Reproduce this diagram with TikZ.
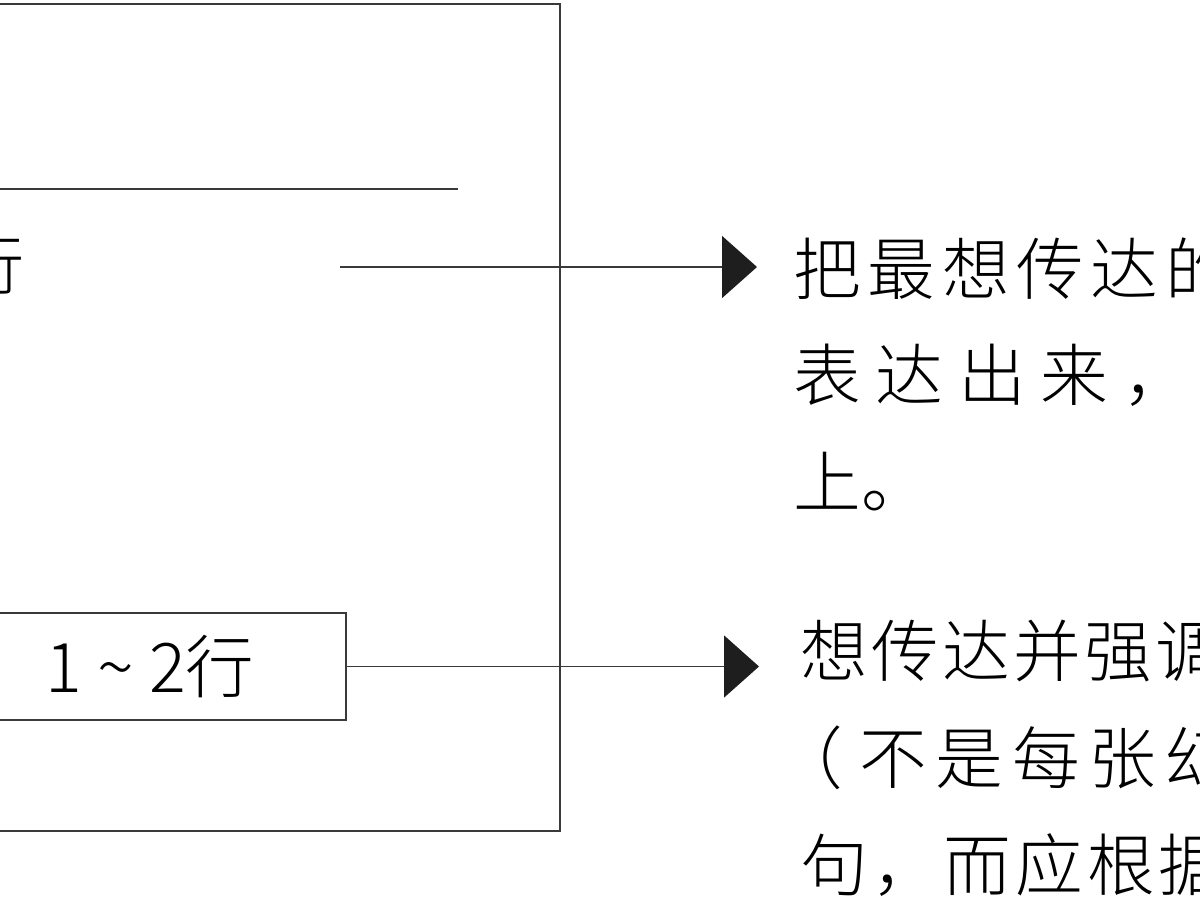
\documentclass[tikz,border=0pt]{standalone}
\usepackage{fontspec}
\IfFontExistsTF{Noto Sans CJK SC Light}
  {\newfontfamily\cjk{Noto Sans CJK SC Light}}
  {\newfontfamily\cjk{Noto Sans CJK SC}}
\usetikzlibrary{arrows.meta,positioning}
\definecolor{linegray}{HTML}{3A3A3A}
\definecolor{tipblack}{HTML}{1E1E1E}
\newcommand{\spaced}[2]{{\addfontfeature{LetterSpace=#1}#2}}

\begin{document}
\begin{tikzpicture}[
      frame/.style={draw=linegray,line width=0.9pt},
      tag/.style={draw=linegray,line width=0.9pt,minimum width=7.84cm,minimum height=2.14cm,inner sep=0pt,font=\cjk\fontsize{39}{42}\selectfont},
      note/.style={align=left,inner sep=0pt,anchor=north west,font=\cjk\fontsize{38.5}{60.7}\selectfont},
      arr/.style={-{Triangle[length=0.7cm,width=1.24cm,color=tipblack]},draw=linegray,line width=0.9pt}
    ]
    \useasboundingbox (0,0) rectangle (24,18);
    \clip (0,0) rectangle (24,18);
    \node[frame,minimum width=12cm,minimum height=16.54cm,anchor=north east] (slide) at (11.22,17.94) {};
    \draw[frame] (-0.6,14.22) -- (9.16,14.22);
    \node[inner sep=0pt,anchor=east,font=\cjk\fontsize{37}{40}\selectfont] (rowlabel) at (0.5,12.7) {行};
    \coordinate (rowend) at (6.8,12.66);
    \coordinate (tipA) at (15.14,12.66);
    \node[note] (mainnote) at (15.86,13.26) {\spaced{10}{把最想传达的}\\\spaced{22}{表达出来，}\\上。};
    \draw[arr] (rowend) -- (tipA);
    \node[tag] (rowtag) at (3.0,4.67) {1 \char"007E{} 2行};
    \coordinate (tipB) at (15.18,4.67);
    \node[note] (subnote) at (16.0,5.6) {\spaced{5}{想传达并强调}\\\kern-14pt\spaced{13}{（\kern9pt不是每张幻}\\\spaced{6}{句，而应根据}};
    \draw[arr] (rowtag) -- (tipB);
  \end{tikzpicture}
\end{document}
